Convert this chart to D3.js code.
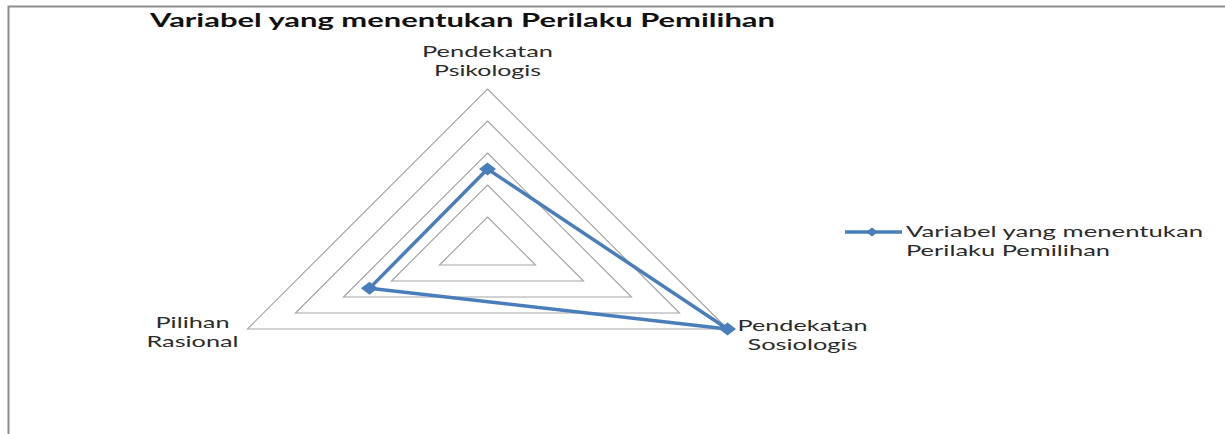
<!DOCTYPE html>
<html>
<head>
<meta charset="utf-8">
<script src="https://cdn.jsdelivr.net/npm/d3@7"></script>
<style>
  html, body { margin: 0; padding: 0; background: #fff; }
  svg { display: block; }
</style>
</head>
<body>
<svg id="chart" width="1225" height="434"></svg>
<script>
// data
const title = "Variabel yang menentukan Perilaku Pemilihan";
const seriesName = ["Variabel yang menentukan", "Perilaku Pemilihan"];
const categories = [
  ["Pendekatan", "Psikologis"],
  ["Pendekatan", "Sosiologis"],
  ["Pilihan", "Rasional"]
];
const values = [25, 50, 24.6];
const gridLevels = [10, 20, 30, 40, 50];

const width = 1225;
const height = 434;
const cx = 487.5;
const cy = 249;
const radius = 160;
const stretchX = 1.732; // the original picture is wider than tall
const blue = "#4a7ebb";

const svg = d3.select("#chart");

// frame
svg.append("rect")
  .attr("x", 8.5).attr("y", 6.5)
  .attr("width", width + 10).attr("height", height + 10)
  .attr("fill", "none")
  .attr("stroke", "#8c8c8c")
  .attr("stroke-width", 2);

const r = d3.scaleLinear().domain([0, 50]).range([0, radius]);
const angle = d3.scaleLinear().domain([0, categories.length]).range([-Math.PI / 2, Math.PI * 1.5]);

const point = (v, i) => [
  cx + r(v) * Math.cos(angle(i)) * stretchX,
  cy + r(v) * Math.sin(angle(i))
];

const line = d3.line().curve(d3.curveLinearClosed);

// grid triangles
svg.append("g")
  .selectAll("path")
  .data(gridLevels)
  .join("path")
  .attr("d", (lv) => line(categories.map((c, i) => point(lv, i))))
  .attr("fill", "none")
  .attr("stroke", "#a6a6a6")
  .attr("stroke-width", 1.2);

// series
svg.append("path")
  .attr("d", line(values.map((v, i) => point(v, i))))
  .attr("fill", "none")
  .attr("stroke", blue)
  .attr("stroke-width", 3.5)
  .attr("stroke-linejoin", "round");

const diamond = (w, h) => `M0,${-h}L${w},0L0,${h}L${-w},0Z`;

svg.append("g")
  .selectAll("path")
  .data(values)
  .join("path")
  .attr("transform", (v, i) => `translate(${point(v, i)})`)
  .attr("d", diamond(8.5, 6.5))
  .attr("fill", blue);

// category labels
const labelFont = "Lato, 'Open Sans', sans-serif";
const labelWidths = [[131, 107], [130, 110], [74, 92]];
const labelPos = [
  (p) => [p[0], p[1] - 32],
  (p) => [p[0] + 75, p[1] + 2],
  (p) => [p[0] - 55, p[1] - 1]
];

categories.forEach((lines, i) => {
  const [lx, ly] = labelPos[i](point(50, i));
  lines.forEach((t, j) => {
    svg.append("text")
      .attr("x", lx)
      .attr("y", ly + j * 18.5)
      .attr("text-anchor", "middle")
      .attr("font-family", labelFont)
      .attr("font-size", 15.2)
      .attr("fill", "#2b2b2b")
      .attr("textLength", labelWidths[i][j])
      .attr("lengthAdjust", "spacingAndGlyphs")
      .text(t);
  });
});

// title
svg.append("text")
  .attr("x", 150)
  .attr("y", 27)
  .attr("font-family", labelFont)
  .attr("font-weight", "bold")
  .attr("font-size", 19)
  .attr("fill", "#111")
  .attr("textLength", 625)
  .attr("lengthAdjust", "spacingAndGlyphs")
  .text(title);

// legend
const legend = svg.append("g").attr("transform", "translate(845,232)");
legend.append("line")
  .attr("x1", 0).attr("x2", 57)
  .attr("stroke", blue)
  .attr("stroke-width", 3.5);
legend.append("path")
  .attr("transform", "translate(27,0)")
  .attr("d", diamond(6, 4.5))
  .attr("fill", blue);
const legendWidths = [297, 204];
seriesName.forEach((t, j) => {
  legend.append("text")
    .attr("x", 61)
    .attr("y", 5 + j * 18.5)
    .attr("font-family", labelFont)
    .attr("font-size", 15.2)
    .attr("fill", "#2b2b2b")
    .attr("textLength", legendWidths[j])
    .attr("lengthAdjust", "spacingAndGlyphs")
    .text(t);
});
</script>
</body>
</html>
